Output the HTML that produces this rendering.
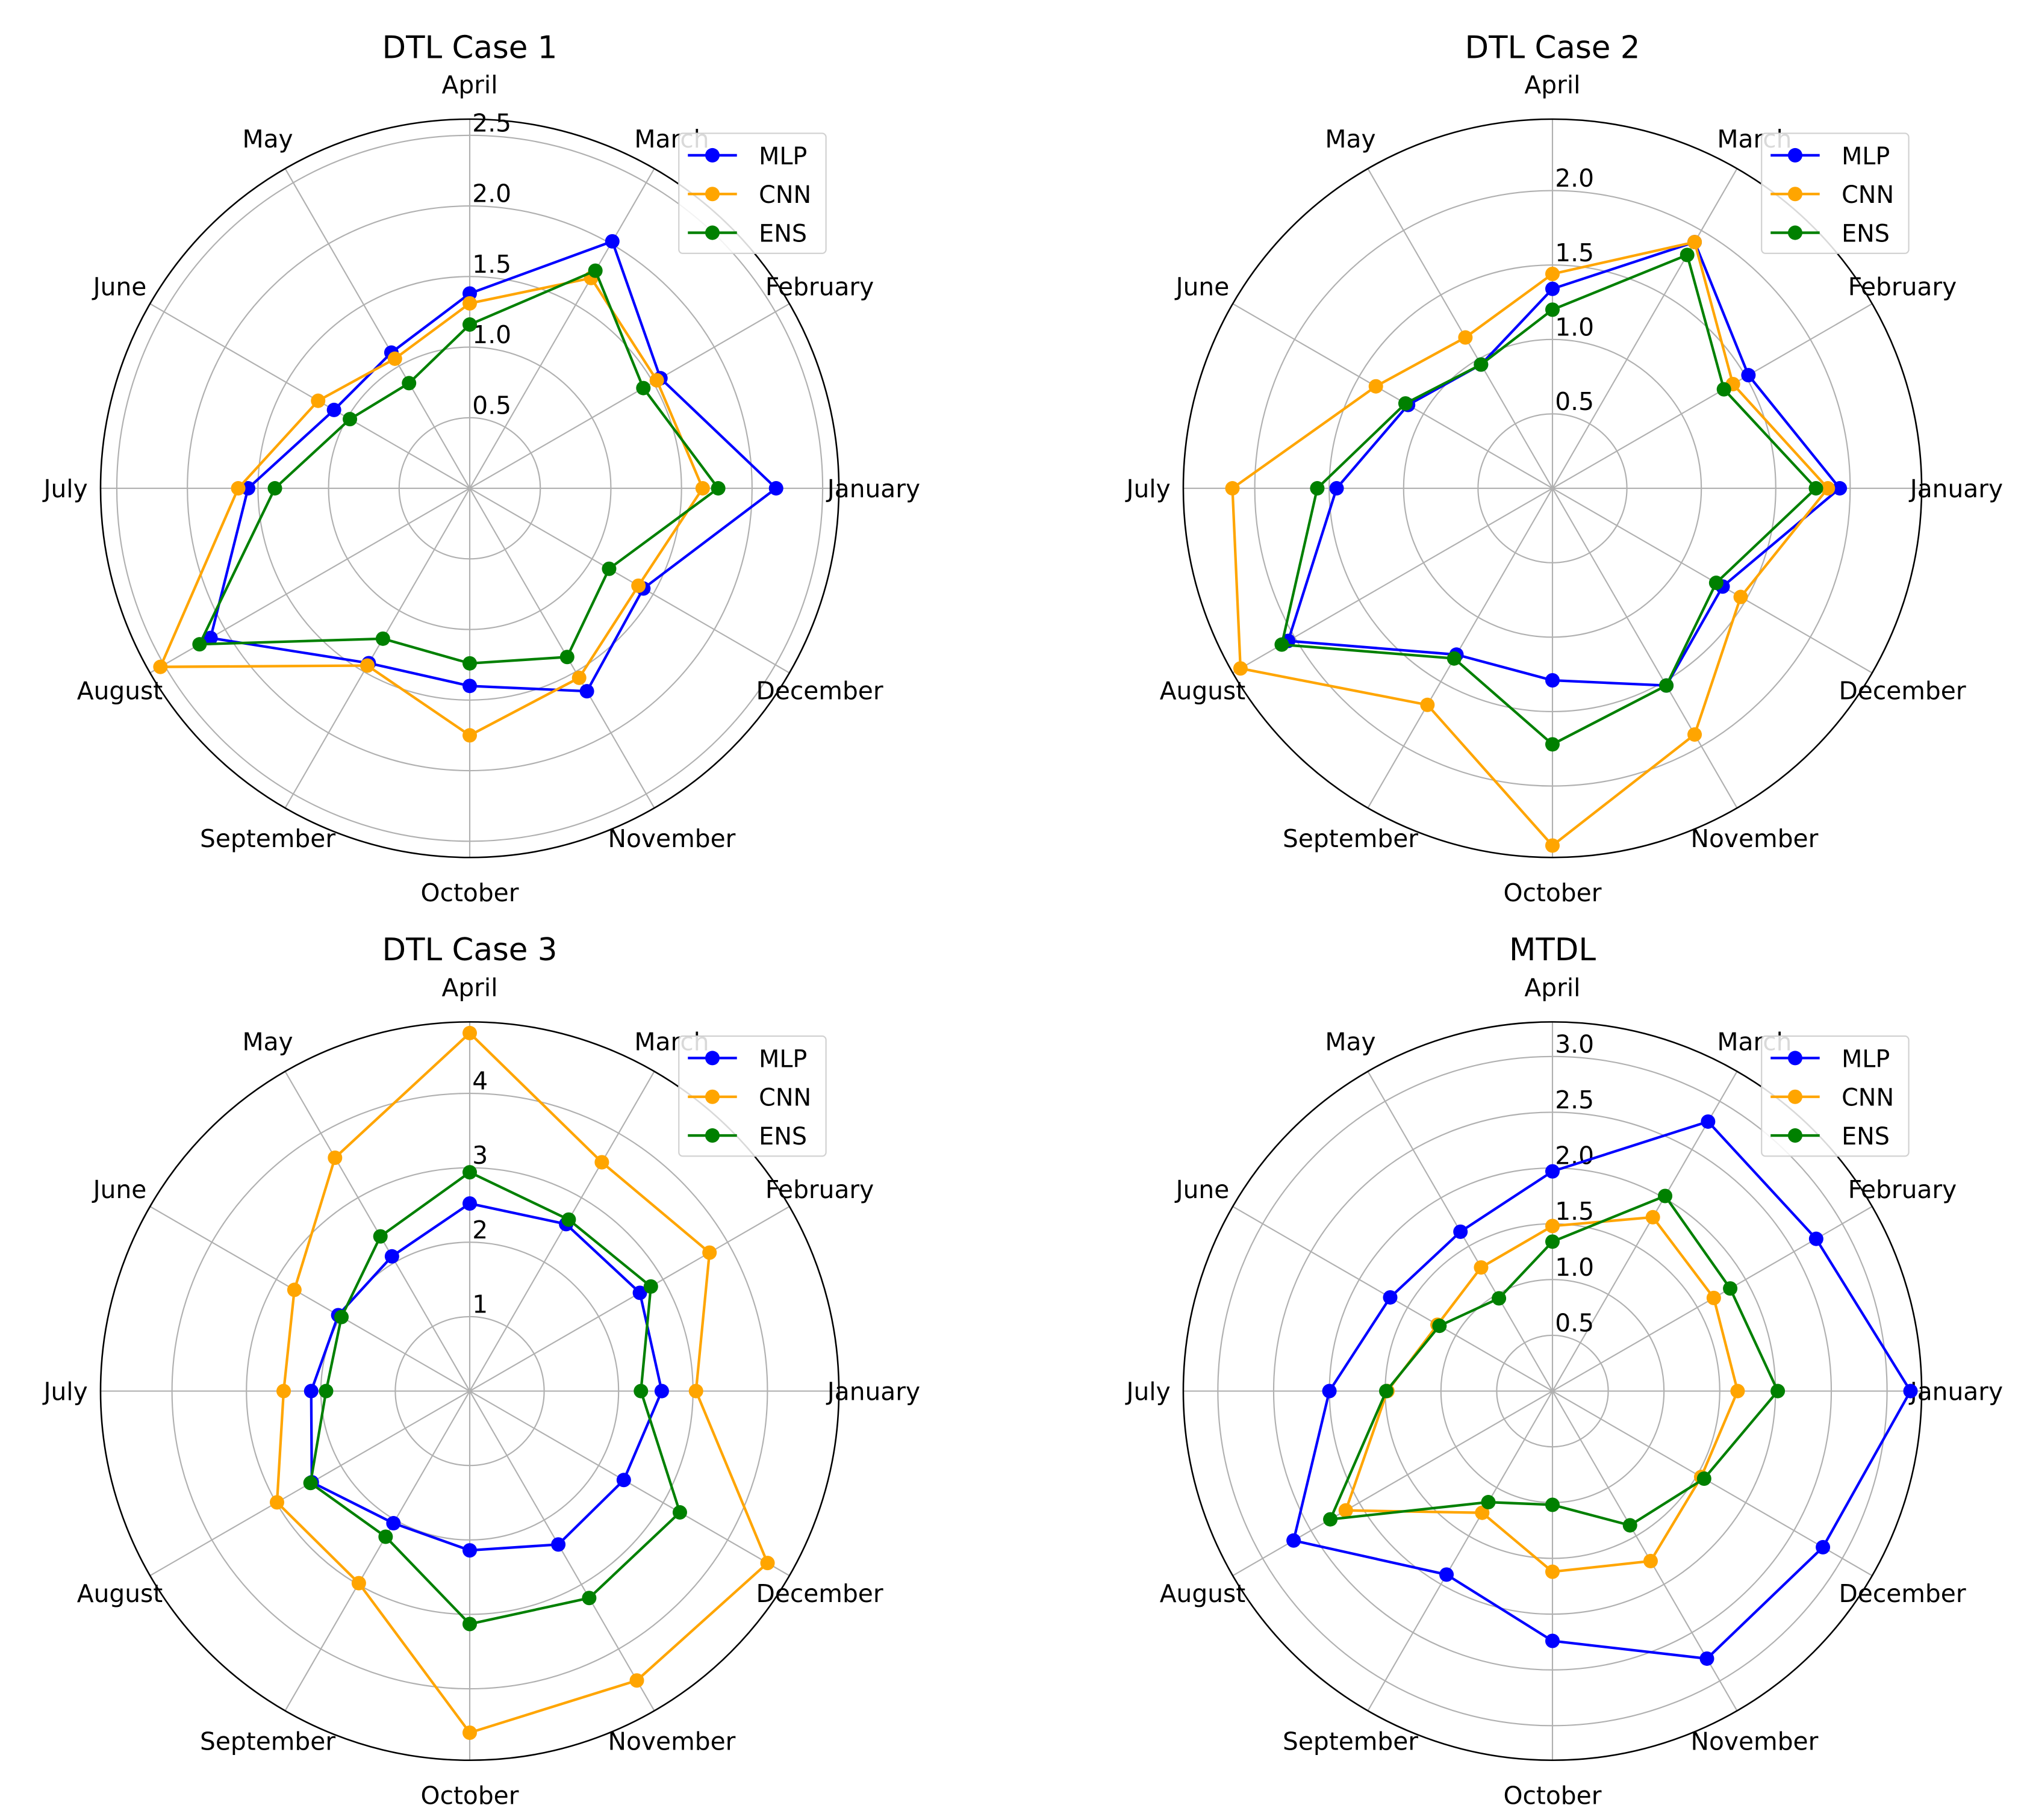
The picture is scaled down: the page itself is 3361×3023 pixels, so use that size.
<!DOCTYPE html>
<html><head><meta charset="utf-8"><style>
html,body{margin:0;padding:0;background:#fff;}
svg{display:block;font-family:"DejaVu Sans","Liberation Sans",sans-serif;}
</style></head><body>
<svg id="fig" width="3361" height="3023" viewBox="0 0 1568 1410" preserveAspectRatio="none" xmlns="http://www.w3.org/2000/svg"></svg>
<script>
const months = ["January","February","March","April","May","June","July","August","September","October","November","December"];
const seriesNames = ["MLP","CNN","ENS"];
const seriesColors = ["#0000ff","#ffa500","#008000"];

const titles = ["DTL Case 1","DTL Case 2","DTL Case 3","MTDL"];
const rMaxes = [2.615, 2.48, 4.96, 3.31];
const ticks1 = [0.5,1.0,1.5,2.0,2.5];
const ticks2 = [0.5,1.0,1.5,2.0];
const ticks3 = [1,2,3,4];
const ticks4 = [0.5,1.0,1.5,2.0,2.5,3.0];
const tickLabels1 = ["0.5","1.0","1.5","2.0","2.5"];
const tickLabels2 = ["0.5","1.0","1.5","2.0"];
const tickLabels3 = ["1","2","3","4"];
const tickLabels4 = ["0.5","1.0","1.5","2.0","2.5","3.0"];

const case1MLP = [2.17,1.56,2.02,1.38,1.11,1.11,1.57,2.12,1.43,1.40,1.66,1.42];
const case1CNN = [1.65,1.53,1.72,1.31,1.06,1.24,1.64,2.53,1.45,1.75,1.55,1.38];
const case1ENS = [1.76,1.42,1.78,1.16,0.86,0.98,1.38,2.21,1.23,1.24,1.38,1.14];

const case2MLP = [1.93,1.52,1.91,1.34,0.96,1.12,1.45,2.05,1.29,1.29,1.53,1.32];
const case2CNN = [1.85,1.40,1.91,1.44,1.17,1.37,2.15,2.42,1.68,2.40,1.91,1.46];
const case2ENS = [1.77,1.33,1.81,1.20,0.96,1.14,1.58,2.10,1.32,1.72,1.53,1.27];

const case3MLP = [2.58,2.64,2.59,2.52,2.09,2.04,2.13,2.45,2.05,2.14,2.38,2.39];
const case3CNN = [3.04,3.72,3.55,4.81,3.62,2.72,2.50,2.99,2.98,4.59,4.49,4.62];
const case3ENS = [2.30,2.81,2.66,2.94,2.40,1.99,1.93,2.47,2.26,3.13,3.21,3.26];

const mtdlMLP = [3.21,2.73,2.79,1.97,1.65,1.68,2.00,2.68,1.90,2.24,2.77,2.80];
const mtdlCNN = [1.66,1.67,1.80,1.48,1.28,1.19,1.48,2.14,1.26,1.62,1.76,1.54];
const mtdlENS = [2.02,1.84,2.02,1.34,0.96,1.17,1.49,2.30,1.15,1.02,1.39,1.57];

const NS = "http://www.w3.org/2000/svg";
const svg = document.getElementById("fig");
function mk(tag, attrs, parent){
  const e = document.createElementNS(NS, tag);
  for (const k in attrs) e.setAttribute(k, attrs[k]);
  (parent||svg).appendChild(e);
  return e;
}
const R = 286;
const centers = [[363.9,378.3],[1202.7,378.3],[363.9,1077.7],[1202.7,1077.7]];
const allTicks = [ticks1,ticks2,ticks3,ticks4];
const allTickLabels = [tickLabels1,tickLabels2,tickLabels3,tickLabels4];
const allData = [[case1MLP,case1CNN,case1ENS],[case2MLP,case2CNN,case2ENS],[case3MLP,case3CNN,case3ENS],[mtdlMLP,mtdlCNN,mtdlENS]];

function drawRadar(p){
  const cx = centers[p][0], cy = centers[p][1], rmax = rMaxes[p];
  const rScale = v => v / rmax * R;
  const pt = (i, v) => { const a = i*Math.PI/6; const r = rScale(v); return [cx + r*Math.cos(a), cy - r*Math.sin(a)]; };
  const g = mk("g", {});
  
  

  const title = mk("text", {x:cx, y:44, "font-size":24, "text-anchor":"middle", fill:"#000"}, g);
  title.setAttribute('y', p < 2 ? 45 : 744);
  title.textContent = titles[p];
  
  

  allTicks[p].forEach((t, k) => {
    const c = mk("circle", {cx:cx, cy:cy, r:rScale(t), fill:"none", stroke:"#b0b0b0", "stroke-width":1}, g);
    
    
  });
  months.forEach((m, i) => {
    const e = pt(i, rmax);
    const l = mk("line", {x1:cx, y1:cy, x2:e[0], y2:e[1], stroke:"#b0b0b0", "stroke-width":1}, g);
    
    
  });
  const outer = mk("circle", {cx:cx, cy:cy, r:R, fill:"none", stroke:"#000", "stroke-width":1.2}, g);
  
  

  allTicks[p].forEach((t, k) => {
    const tx = mk("text", {x:cx+2, y:cy - rScale(t) - 3, "font-size":19, fill:"#000"}, g);
    tx.textContent = allTickLabels[p][k];
    
    
  });
  months.forEach((m, i) => {
    const a = i*Math.PI/6;
    const tx = mk("text", {x:cx + 313*Math.cos(a), y:cy - 313*Math.sin(a) + 7, "font-size":19, "text-anchor":"middle", fill:"#000"}, g);
    tx.textContent = m;
    
    
  });

  allData[p].forEach((vals, s) => {
    const pts = vals.map((v, i) => pt(i, v));
    pts.push(pts[0]);
    const pl = mk("polyline", {points: pts.map(q => q[0].toFixed(2)+","+q[1].toFixed(2)).join(" "), fill:"none", stroke:seriesColors[s], "stroke-width":2, "stroke-linejoin":"round"}, g);
    
    
    vals.forEach((v, i) => {
      const q = pt(i, v);
      const c = mk("circle", {cx:q[0], cy:q[1], r:5.6, fill:seriesColors[s]}, g);
      
      
    });
  });

  const lg = mk("g", {}, g);
  
  
  const lx = cx + 162, ly = cy - 275;
  mk("rect", {x:lx, y:ly, width:114, height:93, rx:3, fill:"#fff", "fill-opacity":0.85, stroke:"#d0d0d0", "stroke-width":1}, lg);
  seriesNames.forEach((n, s) => {
    const yy = ly + 17 + s*30;
    const en = mk("g", {}, lg);
    
    
    mk("line", {x1:lx+7, y1:yy, x2:lx+45, y2:yy, stroke:seriesColors[s], "stroke-width":2}, en);
    mk("circle", {cx:lx+26, cy:yy, r:5.6, fill:seriesColors[s]}, en);
    const t = mk("text", {x:lx+62, y:yy+7, "font-size":18.5, fill:"#000"}, en);
    t.textContent = n;
  });
}
for (let p = 0; p < 4; p++) drawRadar(p);
</script>
</body></html>
